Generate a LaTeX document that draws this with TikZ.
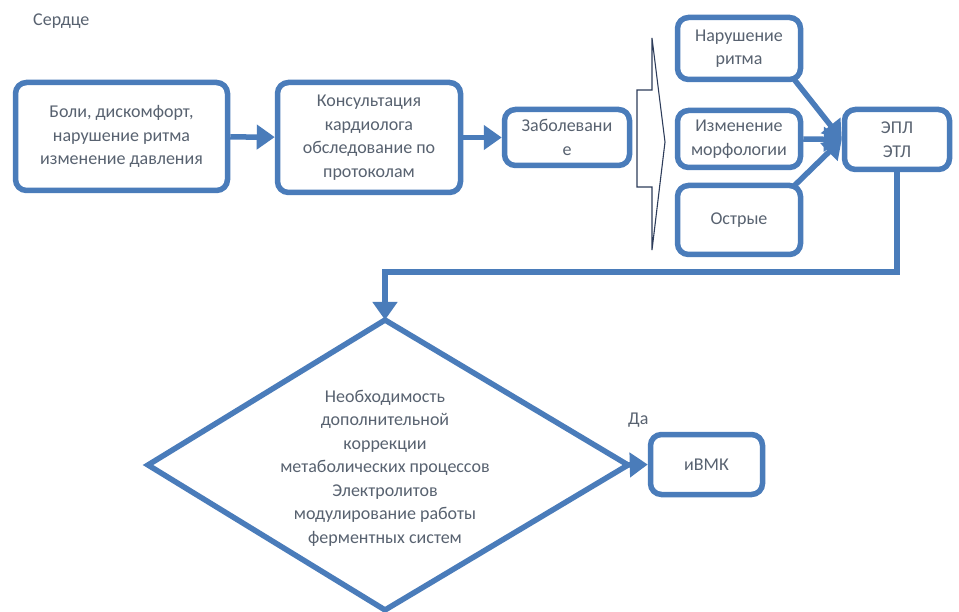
\documentclass[tikz,border=0pt]{standalone}
\usepackage{fontspec}
\setmainfont{Carlito}
\usetikzlibrary{arrows.meta,calc}
\definecolor{boxblue}{RGB}{74,124,186}
\definecolor{txtgrey}{RGB}{88,98,112}
\definecolor{darkline}{RGB}{45,60,90}
\tikzset{
  box/.style={draw=boxblue, line width=5.5pt, rounded corners=11pt, fill=white,
    align=center, text=txtgrey, inner sep=2pt,
    font=\fontsize{18}{23.5}\selectfont},
  link/.style={draw=boxblue, line width=5.5pt, -{Triangle[length=18pt,width=24pt]}},
  plain/.style={text=txtgrey, font=\fontsize{18}{23.5}\selectfont, align=center, inner sep=0pt}
}
\begin{document}
\begin{tikzpicture}[x=1pt,y=-1pt]
\useasboundingbox[fill=white] (0,0) rectangle (959,612);
\node[plain, anchor=west] (title) at (33,21) {Сердце};

\node[box, minimum width=212pt, minimum height=108pt] (b1) at (121.5,136.5)
  {Боли, дискомфорт,\\нарушение ритма\\изменение давления};
\node[box, minimum width=183pt, minimum height=110pt] (b2) at (369,137.5)
  {Консультация\\кардиолога\\обследование по\\протоколам};
\node[box, minimum width=125pt, minimum height=56pt] (b3) at (567,137.5)
  {Заболевани\\е};

\draw[darkline, line width=1.1pt, line join=miter]
  (652,38) -- (665,142) -- (652,250) -- (652,187) -- (637,187) -- (637,90) -- (652,90) -- cycle;

\node[box, minimum width=123pt, minimum height=62pt] (nr) at (739,48.5)
  {Нарушение\\ритма};
\node[box, minimum width=123pt, minimum height=57pt] (im) at (739,139)
  {Изменение\\морфологии};
\node[box, minimum width=123pt, minimum height=69pt] (os) at (739,220)
  {Острые};
\node[box, minimum width=105pt, minimum height=60pt] (epl) at (897,139.5)
  {ЭПЛ\\ЭТЛ};
\node[box, minimum width=112pt, minimum height=60pt] (ivmk) at (706.5,464.5)
  {иВМК};

\coordinate (dtop) at (385,320);
\coordinate (dleft) at (148,465);
\coordinate (dright) at (628,465);
\coordinate (dbot) at (385,610);
\draw[boxblue, line width=5.5pt, line join=miter] (dtop) -- (dright) -- (dbot) -- (dleft) -- cycle;
\node[plain] (dtext) at (385,468)
  {Необходимость\\дополнительной\\коррекции\\метаболических процессов\\Электролитов\\модулирование работы\\ферментных систем};
\coordinate (bend) at (385,272);

\draw[link] (b1) -- (b2);
\draw[link] (b2) -- (b3);
\draw[link] ([xshift=-10pt,yshift=4pt]nr.south east) -- (epl.west);
\draw[link] (im.east) -- (epl.west);
\draw[link] ([xshift=-10pt,yshift=-4pt]os.north east) -- (epl.west);
\draw[link, line join=miter] (epl.south) |- (bend) -- (dtop);
\draw[link] (dright) -- (ivmk.west);
\node[plain, anchor=south west] (da) at (628,428) {Да};
\end{tikzpicture}
\end{document}
